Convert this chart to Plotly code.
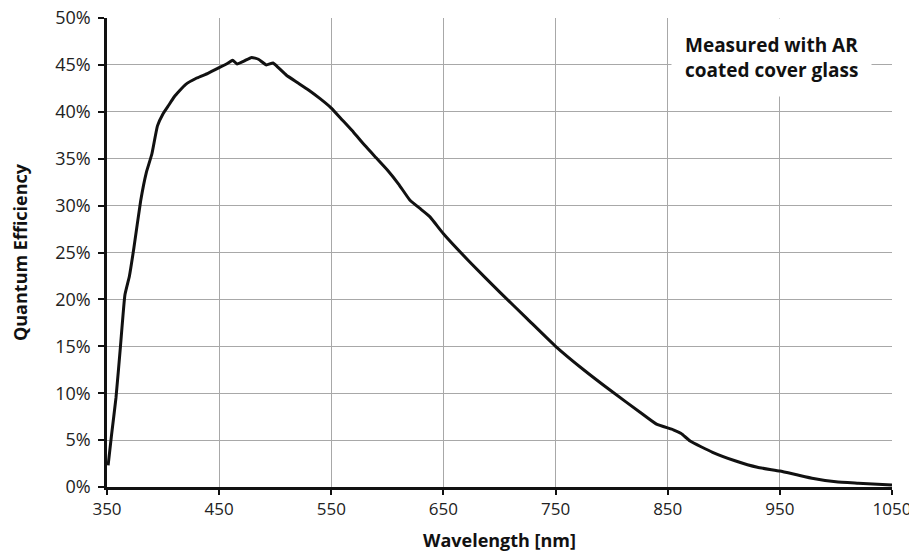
import plotly.graph_objects as go

wavelength_nm = [351, 354, 358, 362, 366, 370, 374, 380, 385, 390, 395, 400, 405, 410, 420, 430,
                 440, 450, 458, 462, 466, 472, 479, 485, 492, 498, 502, 510, 520, 530, 540, 550,
                 560, 570, 580, 590, 600, 610, 620, 630, 638, 650, 675, 700, 725, 750, 775, 800,
                 825, 840, 855, 862, 870, 890, 910, 930, 950, 965, 980, 1000, 1020, 1050]
qe_percent = [2.3, 5.5, 9.5, 15.0, 20.5, 22.5, 25.5, 30.5, 33.5, 35.5, 38.5, 39.8, 40.7, 41.6, 42.9, 43.6,
              44.1, 44.7, 45.2, 45.5, 45.1, 45.4, 45.8, 45.6, 45.0, 45.2, 44.8, 43.9, 43.1, 42.3, 41.4, 40.4,
              39.1, 37.8, 36.4, 35.1, 33.8, 32.3, 30.6, 29.6, 28.8, 27.0, 23.8, 20.8, 17.9, 15.0, 12.5, 10.2,
              8.0, 6.7, 6.1, 5.7, 4.9, 3.7, 2.8, 2.1, 1.7, 1.3, 0.9, 0.55, 0.4, 0.2]

x_ticks = [350, 450, 550, 650, 750, 850, 950, 1050]
y_ticks = [0, 5, 10, 15, 20, 25, 30, 35, 40, 45, 50]
y_tick_labels = [f"{v}%" for v in y_ticks]

FONT = "Open Sans, sans-serif"

fig = go.Figure()
fig.add_trace(go.Scatter(
    x=wavelength_nm, y=qe_percent, mode="lines",
    line=dict(color="#111111", width=3, shape="spline", smoothing=0.4),
    showlegend=False,
))

fig.update_layout(
    width=917, height=555,
    margin=dict(l=99, r=33, t=10, b=76),
    paper_bgcolor="white", plot_bgcolor="white",
    font=dict(family=FONT, size=17, color="#222222"),
    xaxis=dict(
        range=[350, 1050], tickvals=x_ticks, ticktext=[str(v) for v in x_ticks],
        showgrid=True, gridcolor="#a8a8a8", gridwidth=1,
        showline=True, linecolor="#111111", linewidth=2.5,
        ticks="outside", ticklen=5, tickwidth=2, tickcolor="#111111",
        zeroline=False, mirror=False, automargin=False, ticklabeloverflow="allow",
        tickfont=dict(family=FONT, size=17, color="#222222"),
        title=dict(text="<b>Wavelength [nm]</b>", font=dict(family=FONT, size=18, color="#111111"), standoff=16),
    ),
    yaxis=dict(
        range=[0, 50], tickvals=y_ticks, ticktext=y_tick_labels,
        showgrid=True, gridcolor="#a8a8a8", gridwidth=1,
        showline=True, linecolor="#111111", linewidth=2.5,
        ticks="outside", ticklen=6, tickwidth=2, tickcolor="#111111",
        zeroline=False, automargin=False, ticklabelstandoff=4, ticklabeloverflow="allow",
        tickfont=dict(family=FONT, size=18, color="#222222"),
        title=dict(text="<b>Quantum Efficiency</b>", font=dict(family=FONT, size=18, color="#111111"), standoff=26),
    ),
)

fig.add_annotation(
    xref="paper", yref="paper", x=0.7185, y=1.0, xanchor="left", yanchor="top",
    text="<b>Measured with AR<br>coated cover glass</b>", align="left",
    showarrow=False, bgcolor="white", borderpad=13,
    font=dict(family=FONT, size=19, color="#111111"),
)

fig.write_html("out.html")
